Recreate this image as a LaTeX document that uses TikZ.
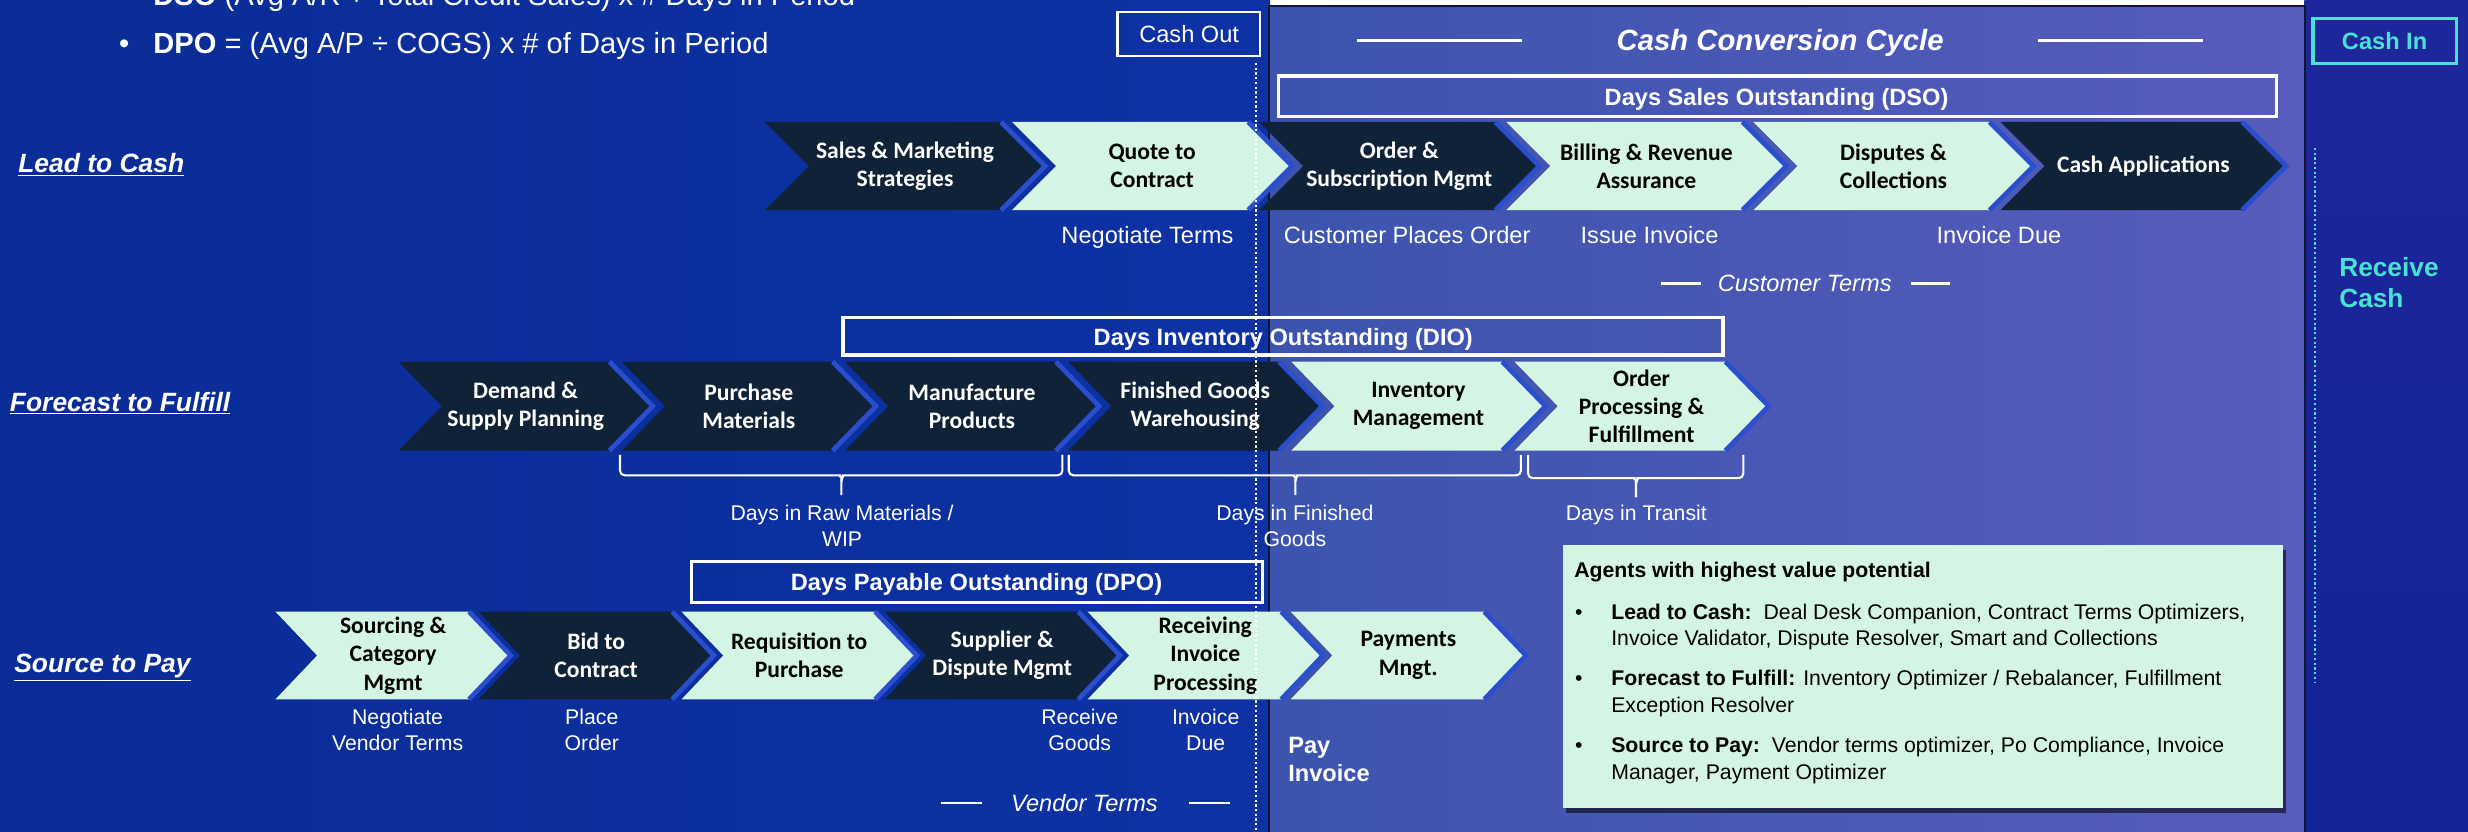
\documentclass[tikz,border=0pt]{standalone}
\usepackage{fontspec}
\setmainfont{Liberation Sans}
\newfontfamily\carl{Carlito}
\usetikzlibrary{shadows}
\definecolor{bgblue}{RGB}{10,44,150}
\definecolor{bgblue2}{RGB}{14,50,164}
\definecolor{ccca}{RGB}{60,84,174}
\definecolor{cccb}{RGB}{88,92,188}
\definecolor{rsa}{RGB}{30,38,155}
\definecolor{rsb}{RGB}{64,60,182}
\definecolor{rsc}{RGB}{18,36,150}
\definecolor{navy}{RGB}{15,34,56}
\definecolor{mint}{RGB}{212,245,227}
\definecolor{chevline}{RGB}{42,78,205}
\definecolor{cyanc}{RGB}{72,226,210}
\definecolor{boxedge}{RGB}{16,22,48}

% #1 name, #2 x, #3 top, #4 width, #5 height, #6 depth, #7 style, #8 text
\newcommand\chevron[8]{%
  \path[#7] (#2,#3) -- ++(#4,0) -- ++(#6,#5/2) -- ++(-#6,#5/2) -- ++(-#4,0) -- ++(#6,-#5/2) -- cycle;
  \draw[tipline] (#2+#4,#3) -- ++(#6,#5/2) -- ++(-#6,#5/2);
  \node[#7 txt] (#1) at ({#2+(#6+#4)/2},{#3+#5/2}) {#8};}

\begin{document}
\begin{tikzpicture}[x=1pt,y=-1pt,
  dk/.style={fill=navy},
  lt/.style={fill=mint},
  tipline/.style={draw=chevline,line width=3pt,line join=miter},
  dk txt/.style={text=white,font=\carl\bfseries\fontsize{15}{18}\selectfont,align=center,inner sep=0pt},
  lt txt/.style={text=black,font=\carl\bfseries\fontsize{15}{18}\selectfont,align=center,inner sep=0pt},
  wbox/.style={draw=white,line width=2pt,inner sep=0pt},
  boxtxt/.style={text=white,font=\bfseries\fontsize{15}{18}\selectfont,inner sep=0pt,anchor=base},
  lbl/.style={text=white,font=\fontsize{15}{18}\selectfont,inner sep=0pt,anchor=base},
  slbl/.style={text=white,font=\fontsize{13.5}{16.4}\selectfont,inner sep=0pt,anchor=base,align=center},
  rowlbl/.style={text=white,font=\bfseries\itshape\fontsize{16.8}{20}\selectfont,inner sep=0pt,anchor=base west},
  topline/.style={text=white,font=\fontsize{18.5}{22}\selectfont,inner sep=0pt,anchor=base west},
  agtxt/.style={text=black,font=\fontsize{13.5}{16}\selectfont,inner sep=0pt,anchor=base west},
  wline/.style={white,line width=2pt},
  brc/.style={white,line width=1.3pt,rounded corners=3pt},
  wdots/.style={white,line width=1.4pt,dash pattern=on 1.4pt off 1.6pt},
  cdots/.style={cyanc,line width=1.4pt,dash pattern=on 1.4pt off 1.6pt},
  agbox/.style={fill=mint,inner sep=0pt,minimum width=457.2pt,minimum height=167.2pt,
     drop shadow={shadow xshift=2pt,shadow yshift=-3pt,opacity=.55,fill=black}}
]
\useasboundingbox (0,0) rectangle (1568,528);
% background
\shade[left color=bgblue,right color=bgblue2] (0,0) rectangle (807,528);
\shade[top color=rsa,middle color=rsb,bottom color=rsc] (1464,0) rectangle (1568,528);
\shade[left color=ccca,right color=cccb] (806.3,3.8) rectangle (1464.5,540);
\draw[boxedge,line width=1.6pt] (806.3,540) -- (806.3,3.8) -- (1464.5,3.8) -- (1464.5,540);

% top formulas
\node[topline,anchor=base] (bul1) at (79,3.4) {•};
\node[topline] (dso) at (97.3,3.4) {\textbf{DSO} (Avg A/R ÷ Total Credit Sales) x \# Days in Period};
\node[topline,anchor=base] (bul2) at (79,34.3) {•};
\node[topline] (dpo) at (97.3,34.3) {\textbf{DPO} = (Avg A/P ÷ COGS) x \# of Days in Period};

% header
\node[draw=white,line width=1.4pt,minimum width=90.6pt,minimum height=28.2pt,inner sep=0pt] (cashoutbox) at (755.3,21.5) {};
\node[lbl] (cashout) at (755.5,27.2) {Cash Out};
\draw[wline] (862,25.8) -- (967,25.8);
\draw[wline] (1294.6,25.8) -- (1399.3,25.8);
\node[text=white,font=\bfseries\itshape\fontsize{18.6}{22}\selectfont,inner sep=0pt,anchor=base] (ccc) at (1131,32.1) {Cash Conversion Cycle};
\node[draw=cyanc,line width=2pt,minimum width=91pt,minimum height=28.6pt,inner sep=0pt] (cashinbox) at (1515,25.9) {};
\node[boxtxt,text=cyanc] (cashin) at (1515,31.6) {Cash In};
\node[text=cyanc,font=\bfseries\fontsize{16.7}{20}\selectfont,inner sep=0pt,anchor=base west,align=left] (recv) at (1486,195.5) {Receive\\Cash};

% metric boxes
\node[wbox,minimum width=634.1pt,minimum height=25.8pt] (dsobox) at (1129.45,61.2) {};
\node[boxtxt] (dsot) at (1128.7,66.8) {Days Sales Outstanding (DSO)};
\node[wbox,minimum width=559.1pt,minimum height=24pt] (diobox) at (815.15,213.5) {};
\node[boxtxt] (diot) at (815.3,219.3) {Days Inventory Outstanding (DIO)};
\node[wbox,minimum width=363pt,minimum height=25.9pt] (dpobox) at (620.8,369.75) {};
\node[boxtxt] (dpot) at (620.4,374.9) {Days Payable Outstanding (DPO)};

% row labels
\node[rowlbl] (l2c) at (11.4,109.8) {\underline{Lead to Cash}};
\node[rowlbl] (f2f) at (6.1,261.2) {\underline{Forecast to Fulfill}};
\node[rowlbl] (s2p) at (8.9,427.4) {\underline{Source to Pay}};

% row 1 chevrons
\chevron{sm}{486}{77.5}{150}{56}{28}{dk}{Sales \& Marketing\\Strategies}
\chevron{qc}{643}{77.5}{150}{56}{28}{lt}{Quote to\\Contract}
\chevron{os}{800}{77.5}{150}{56}{28}{dk}{Order \&\\Subscription Mgmt}
\chevron{br}{957}{77.5}{150}{56}{28}{lt}{Billing \& Revenue\\Assurance}
\chevron{dc}{1114}{77.5}{150}{56}{28}{lt}{Disputes \&\\Collections}
\chevron{ca}{1271}{77.5}{153.5}{56}{28}{dk}{Cash Applications}

% row 2 chevrons
\chevron{ds}{253.2}{229.8}{134}{56.5}{27.5}{dk}{Demand \&\\Supply Planning}
\chevron{pm}{395.0}{229.8}{134}{56.5}{27.5}{dk}{Purchase\\Materials}
\chevron{mp}{536.8}{229.8}{134}{56.5}{27.5}{dk}{Manufacture\\Products}
\chevron{fg}{678.6}{229.8}{134}{56.5}{27.5}{dk}{Finished Goods\\Warehousing}
\chevron{im}{820.4}{229.8}{134}{56.5}{27.5}{lt}{Inventory\\Management}
\chevron{op}{962.2}{229.8}{134}{56.5}{27.5}{lt}{Order\\Processing \&\\Fulfillment}

% row 3 chevrons
\chevron{sc}{175}{388.6}{123}{55.7}{26.5}{lt}{Sourcing \&\\Category\\Mgmt}
\chevron{bc}{304}{388.6}{123}{55.7}{26.5}{dk}{Bid to\\Contract}
\chevron{rp}{433}{388.6}{123}{55.7}{26.5}{lt}{Requisition to\\Purchase}
\chevron{sd}{562}{388.6}{123}{55.7}{26.5}{dk}{Supplier \&\\Dispute Mgmt}
\chevron{ri}{691}{388.6}{123}{55.7}{26.5}{lt}{Receiving\\Invoice\\Processing}
\chevron{pay}{820}{388.6}{123}{55.7}{26.5}{lt}{Payments\\Mngt.}

% row 1 labels
\node[lbl] (negt) at (729,155) {Negotiate Terms};
\node[lbl] (cpo) at (894,155) {Customer Places Order};
\node[lbl] (issinv) at (1048,155) {Issue Invoice};
\node[lbl] (invdue) at (1270,155) {Invoice Due};
\node[lbl,font=\itshape\fontsize{15}{18}\selectfont] (custt) at (1146.6,185.4) {Customer Terms};
\draw[wline,line width=1.5pt] (1055,180) -- (1080.7,180);
\draw[wline,line width=1.5pt] (1214,180) -- (1238.6,180);

% braces row 2
\draw[brc] (393.9,289) -- (393.9,302) -- (530.6,302) to[out=0,in=90] (534.6,306) -- (534.6,314.5);
\draw[brc] (675,289) -- (675,302) -- (538.6,302) to[out=180,in=90] (534.6,306);
\draw[brc] (679,289) -- (679,302) -- (819,302) to[out=0,in=90] (823,306) -- (823,314.5);
\draw[brc] (966.3,289) -- (966.3,302) -- (827,302) to[out=180,in=90] (823,306);
\draw[brc] (970.8,289) -- (970.8,303.8) -- (1035.4,303.8) to[out=0,in=90] (1039.4,307.8) -- (1039.4,316);
\draw[brc] (1107.6,289) -- (1107.6,303.8) -- (1043.4,303.8) to[out=180,in=90] (1039.4,307.8);
\node[slbl] (rawwip) at (535,346.9) {Days in Raw Materials /\\WIP};
\node[slbl] (fing) at (822.7,346.9) {Days in Finished\\Goods};
\node[slbl] (transit) at (1039.6,330.8) {Days in Transit};

% row 3 labels
\node[slbl] (nvt) at (252.6,476.6) {Negotiate\\Vendor Terms};
\node[slbl] (plo) at (376,476.6) {Place\\Order};
\node[slbl] (rcg) at (686,476.6) {Receive\\Goods};
\node[slbl] (ivd) at (766,476.6) {Invoice\\Due};
\node[text=white,font=\bfseries\fontsize{15}{18}\selectfont,inner sep=0pt,anchor=base west,align=left] (payinv) at (818.3,496.7) {Pay\\Invoice};
\node[lbl,font=\itshape\fontsize{15}{18}\selectfont] (vendt) at (689,515.8) {Vendor Terms};
\draw[wline,line width=1.5pt] (597.6,510) -- (624,510);
\draw[wline,line width=1.5pt] (755.7,510) -- (781.2,510);

% dotted lines
\coordinate (wd1) at (798,40);
\coordinate (wd2) at (798,530);
\draw[wdots] (wd1) -- (wd2);
\coordinate (cd1) at (1471,94);
\coordinate (cd2) at (1471,434);
\draw[cdots] (cd1) -- (cd2);

% agents box
\node[agbox] (agents) at (1221.6,429.9) {};
\node[agtxt,font=\bfseries\fontsize{13.5}{16}\selectfont] (agt) at (1000,366.9) {Agents with highest value potential};
\node[agtxt,anchor=base] (b1) at (1003,393.4) {•};
\node[agtxt] (a1) at (1023.5,393.4) {\textbf{Lead to Cash:}\ \ Deal Desk Companion, Contract Terms Optimizers,};
\node[agtxt] (a1b) at (1023.5,410.3) {Invoice Validator, Dispute Resolver, Smart and Collections};
\node[agtxt,anchor=base] (b2) at (1003,435.8) {•};
\node[agtxt] (a2) at (1023.5,435.8) {\textbf{Forecast to Fulfill:} Inventory Optimizer / Rebalancer, Fulfillment};
\node[agtxt] (a2b) at (1023.5,452.8) {Exception Resolver};
\node[agtxt,anchor=base] (b3) at (1003,478.1) {•};
\node[agtxt] (a3) at (1023.5,478.1) {\textbf{Source to Pay:}\ \ Vendor terms optimizer, Po Compliance, Invoice};
\node[agtxt] (a3b) at (1023.5,495.1) {Manager, Payment Optimizer};
\end{tikzpicture}
\end{document}
